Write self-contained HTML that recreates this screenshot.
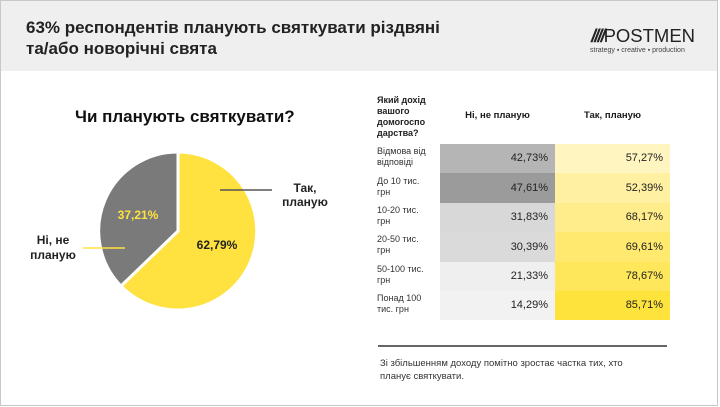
<!DOCTYPE html>
<html><head><meta charset="utf-8"><style>
*{margin:0;padding:0;box-sizing:border-box}
body{width:720px;height:407px;background:#fff;font-family:"Liberation Sans","DejaVu Sans",sans-serif;color:#1a1a1a;position:relative;overflow:hidden}
.frame{position:absolute;left:0;top:0;width:718px;height:406px;border:1px solid #c8c8c8;border-top:none}
.hdr{position:absolute;left:0;top:0;width:717px;height:71px;background:#efefef;border-top:1px solid #c8c8c8}
.t{position:absolute;left:26px;top:17px;font-size:17px;font-weight:bold;line-height:21px;color:#222}
.logo{position:absolute;left:591px;top:25px;font-size:18.5px;color:#222}
.logo b{font-weight:900;font-style:italic;letter-spacing:-2px}
.tag{position:absolute;left:590px;top:47px;font-size:7px;color:#444}
.abs{position:absolute}
.cell{position:absolute;font-size:11px;text-align:right;padding-right:7px;color:#222}
.lab{position:absolute;left:377px;font-size:9px;line-height:11px;color:#333}
</style></head><body>
<div class="hdr"></div>
<div class="frame"></div>
<div class="t">63% респондентів планують святкувати різдвяні<br>та/або новорічні свята</div>
<div class="logo"><b>////</b>POSTMEN</div>
<div class="tag">strategy ▪ creative ▪ production</div>

<div class="abs" style="left:75px;top:107px;font-size:17px;font-weight:bold;color:#111">Чи планують святкувати?</div>
<svg class="abs" style="left:0;top:0" width="360" height="407">
<path d="M178,231 L178,152 A79,79 0 1 1 121,286 Z" fill="#ffe23f" stroke="#fff" stroke-width="3"/>
<path d="M178,231 L121,286 A79,79 0 0 1 178,152 Z" fill="#7a7a7a" stroke="#fff" stroke-width="3"/>
<line x1="220" y1="190" x2="272" y2="190" stroke="#555" stroke-width="1.5"/>
<line x1="83" y1="248" x2="125" y2="248" stroke="#ffe23f" stroke-width="1.5"/>
<text x="138" y="219" font-size="12" font-weight="bold" fill="#ffe23f" text-anchor="middle" font-family="Liberation Sans">37,21%</text>
<text x="217" y="249" font-size="12" font-weight="bold" fill="#222" text-anchor="middle" font-family="Liberation Sans">62,79%</text>
<text x="305" y="192" font-size="12" font-weight="bold" fill="#222" text-anchor="middle" font-family="Liberation Sans">Так,</text>
<text x="305" y="206" font-size="12" font-weight="bold" fill="#222" text-anchor="middle" font-family="Liberation Sans">планую</text>
<text x="53" y="244" font-size="12" font-weight="bold" fill="#222" text-anchor="middle" font-family="Liberation Sans">Ні, не</text>
<text x="53" y="259" font-size="12" font-weight="bold" fill="#222" text-anchor="middle" font-family="Liberation Sans">планую</text>
</svg>

<div class="lab" style="top:95px;font-weight:bold;color:#222">Який дохід<br>вашого<br>домогоспо<br>дарства?</div>
<div class="abs" style="left:440px;top:110px;width:115px;text-align:center;font-size:9.5px;font-weight:bold">Ні, не планую</div>
<div class="abs" style="left:555px;top:110px;width:115px;text-align:center;font-size:9.5px;font-weight:bold">Так, планую</div>

<div class="lab" style="top:146px">Відмова від<br>відповіді</div>
<div class="cell" style="left:440px;top:144px;width:115px;height:29px;line-height:29px;background:#b5b5b5">42,73%</div>
<div class="cell" style="left:555px;top:144px;width:115px;height:29px;line-height:29px;background:#fff5c0">57,27%</div>

<div class="lab" style="top:176px">До 10 тис.<br>грн</div>
<div class="cell" style="left:440px;top:173px;width:115px;height:30px;line-height:30px;background:#9b9b9b">47,61%</div>
<div class="cell" style="left:555px;top:173px;width:115px;height:30px;line-height:30px;background:#fff0a2">52,39%</div>

<div class="lab" style="top:205px">10-20 тис.<br>грн</div>
<div class="cell" style="left:440px;top:203px;width:115px;height:29px;line-height:29px;background:#d8d8d8">31,83%</div>
<div class="cell" style="left:555px;top:203px;width:115px;height:29px;line-height:29px;background:#ffec8a">68,17%</div>

<div class="lab" style="top:234px">20-50 тис.<br>грн</div>
<div class="cell" style="left:440px;top:232px;width:115px;height:30px;line-height:30px;background:#dadada">30,39%</div>
<div class="cell" style="left:555px;top:232px;width:115px;height:30px;line-height:30px;background:#ffe96f">69,61%</div>

<div class="lab" style="top:264px">50-100 тис.<br>грн</div>
<div class="cell" style="left:440px;top:262px;width:115px;height:29px;line-height:29px;background:#efefef">21,33%</div>
<div class="cell" style="left:555px;top:262px;width:115px;height:29px;line-height:29px;background:#ffe75c">78,67%</div>

<div class="lab" style="top:293px">Понад 100<br>тис. грн</div>
<div class="cell" style="left:440px;top:291px;width:115px;height:29px;line-height:29px;background:#f2f2f2">14,29%</div>
<div class="cell" style="left:555px;top:291px;width:115px;height:29px;line-height:29px;background:#ffe33d">85,71%</div>

<div class="abs" style="left:378px;top:345px;width:289px;height:2px;background:#666"></div>
<div class="abs" style="left:380px;top:357px;font-size:9.5px;line-height:13px;color:#333">Зі збільшенням доходу помітно зростає частка тих, хто<br>планує святкувати.</div>
</body></html>
